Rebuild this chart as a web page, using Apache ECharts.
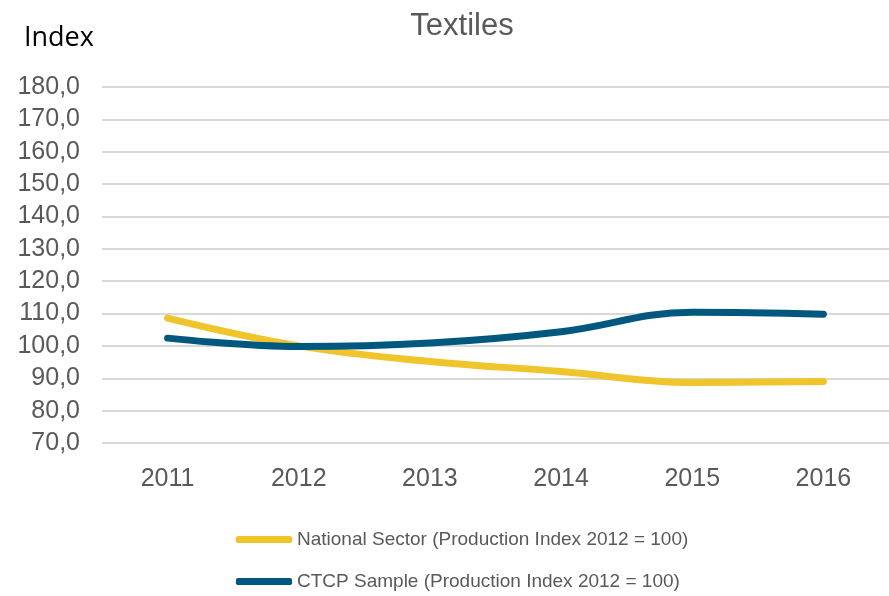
<!DOCTYPE html>
<html>
<head>
<meta charset="utf-8">
<script src="https://cdn.jsdelivr.net/npm/echarts@6/dist/echarts.min.js"></script>
<style>html,body{margin:0;padding:0;background:#fff}#c{width:889px;height:596px}</style>
</head>
<body>
<div id="c"></div>
<script>
const years = ['2011', '2012', '2013', '2014', '2015', '2016'];
const nationalSector = [108.6, 100.0, 95.2, 92.1, 88.7, 89.0];
const ctcpSample = [102.4, 99.8, 100.9, 104.4, 110.4, 109.8];
const seriesNames = ['National Sector (Production Index 2012 = 100)', 'CTCP Sample (Production Index 2012 = 100)'];
const yMin = 70, yMax = 180, yStep = 10;

const FONT = '"Liberation Sans", Arial, sans-serif';
const legendBase = {
  orient: 'vertical', left: 231,
  itemWidth: 56, itemHeight: 7, icon: 'roundRect', itemGap: 4,
  textStyle: { fontFamily: FONT, fontSize: 19, color: '#595959' }
};
const chart = echarts.init(document.getElementById('c'));
chart.setOption({
  animation: false,
  backgroundColor: '#fff',
  title: [
    { text: 'Textiles', left: 457, textAlign: 'center', top: 6,
      textStyle: { fontFamily: FONT, fontSize: 31, fontWeight: 'normal', color: '#595959' } },
    { text: 'Index', left: 19, top: 20,
      textStyle: { fontFamily: '"Open Sans", sans-serif', fontSize: 27, fontWeight: 'normal', color: '#000' } }
  ],
  grid: { left: 102, right: -1, top: 87, bottom: 153, containLabel: false },
  legend: [
    Object.assign({}, legendBase, { top: 525, data: [seriesNames[0]] }),
    Object.assign({}, legendBase, { top: 567, data: [seriesNames[1]] })
  ],
  xAxis: {
    type: 'category', data: years, boundaryGap: true,
    axisLine: { show: false }, axisTick: { show: false },
    axisLabel: { margin: 24, fontFamily: FONT, fontSize: 25, color: '#595959' }
  },
  yAxis: {
    type: 'value', min: yMin, max: yMax, interval: yStep,
    axisLine: { show: false }, axisTick: { show: false },
    splitLine: { lineStyle: { color: '#D9D9D9', width: 2 } },
    axisLabel: { margin: 22, fontFamily: FONT, fontSize: 25, color: '#595959',
      formatter: v => v.toFixed(1).replace('.', ',') }
  },
  series: [
    { name: seriesNames[0], type: 'line', data: nationalSector, smooth: 0.4, showSymbol: false,
      color: '#F0C42B', lineStyle: { width: 7, color: '#F0C42B', cap: 'round' } },
    { name: seriesNames[1], type: 'line', data: ctcpSample, smooth: 0.4, showSymbol: false,
      color: '#00587F', lineStyle: { width: 7, color: '#00587F', cap: 'round' } }
  ]
});
</script>
</body>
</html>
